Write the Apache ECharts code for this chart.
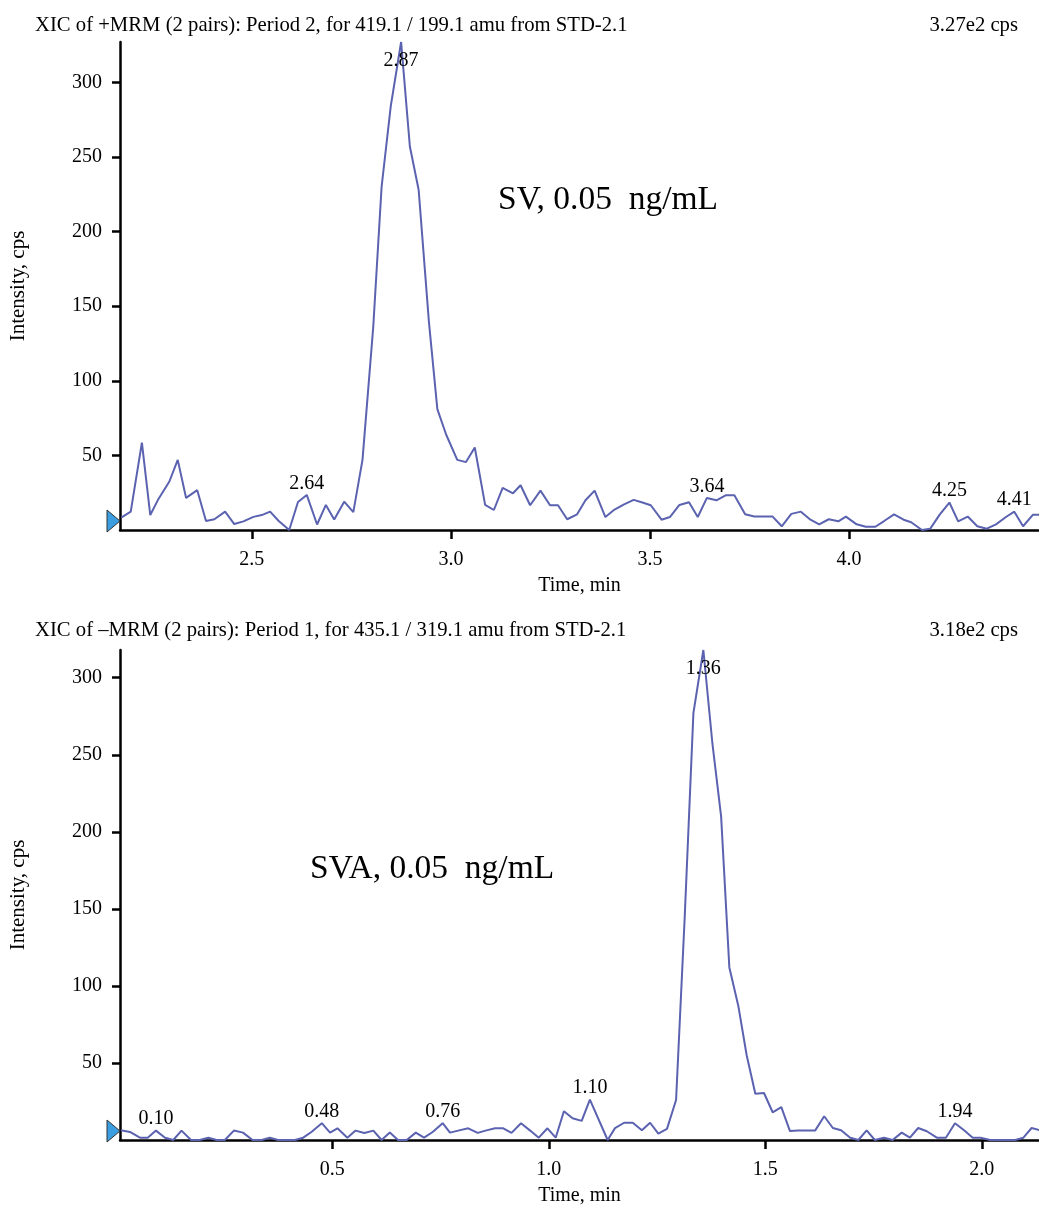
<!DOCTYPE html>
<html lang="en">
<head>
    <meta charset="UTF-8">
    <title>XIC SV / SVA 0.05 ng/mL</title>
    <script src="https://cdn.jsdelivr.net/npm/echarts@6/dist/echarts.min.js"></script>
    <style>
        html, body { margin: 0; padding: 0; background: #fff; }
    </style>
</head>
<body>
<div id="chart" style="width: 1039px;height: 1207px"></div>
<script type="text/javascript">
    // SV, +MRM 419.1 / 199.1 (upper trace)
    var svTime = [2.172, 2.196, 2.224, 2.245, 2.266, 2.293, 2.314, 2.335, 2.363, 2.385,
        2.406, 2.433, 2.456, 2.479, 2.504, 2.525, 2.546, 2.567, 2.594, 2.616,
        2.638, 2.664, 2.686, 2.707, 2.732, 2.755, 2.778, 2.805, 2.826, 2.849,
        2.875, 2.897, 2.919, 2.945, 2.966, 2.988, 3.016, 3.038, 3.060, 3.086,
        3.108, 3.130, 3.156, 3.175, 3.199, 3.225, 3.249, 3.269, 3.292, 3.317,
        3.338, 3.361, 3.388, 3.411, 3.435, 3.459, 3.481, 3.502, 3.529, 3.550,
        3.574, 3.598, 3.620, 3.643, 3.667, 3.691, 3.712, 3.739, 3.762, 3.786,
        3.808, 3.831, 3.855, 3.879, 3.903, 3.925, 3.949, 3.973, 3.992, 4.019,
        4.042, 4.066, 4.088, 4.113, 4.137, 4.156, 4.183, 4.204, 4.228, 4.252,
        4.274, 4.298, 4.322, 4.346, 4.369, 4.394, 4.415, 4.437, 4.462, 4.481];
    var svIntensity = [8.3, 12.3, 58.5, 10, 21, 32.5, 47, 21.5, 26.7, 6,
        7.2, 12.3, 4, 5.8, 8.8, 10, 12.3, 6.2, 0, 18.8,
        23.5, 3.7, 16.8, 7, 19, 12, 47, 136, 230, 284,
        327, 257, 228, 139, 81, 64, 47, 45.5, 55.3, 16.8,
        13.4, 28.2, 24.6, 30, 16.6, 26.4, 16.6, 16.6, 7.2, 10.5,
        19.9, 26.4, 8.7, 13.7, 17.2, 20.2, 18.4, 16.6, 6.9, 8.7,
        16.8, 18.6, 8.7, 21.5, 19.9, 23.3, 23.3, 10.5, 9, 9,
        9, 2.5, 10.8, 12.3, 6.9, 3.8, 7.2, 5.8, 9, 3.8,
        2.2, 2.2, 6, 10.5, 6.9, 5.2, 0, 0.9, 10.5, 18.4,
        5.8, 9, 2.5, 0.9, 3.8, 8.7, 12.3, 2.5, 10.3, 10.3];
    var svPeaks = ['2.64', '2.87', '3.64', '4.25', '4.41'];
    var svTicksX = [2.5, 3.0, 3.5, 4.0];

    // SVA, -MRM 435.1 / 319.1 (lower trace)
    var svaTime = [0.012, 0.033, 0.056, 0.074, 0.093, 0.114, 0.133, 0.152, 0.174, 0.194,
        0.214, 0.233, 0.252, 0.273, 0.294, 0.316, 0.337, 0.356, 0.375, 0.395,
        0.414, 0.433, 0.452, 0.476, 0.495, 0.512, 0.535, 0.554, 0.574, 0.595,
        0.614, 0.633, 0.652, 0.672, 0.693, 0.712, 0.732, 0.755, 0.772, 0.791,
        0.814, 0.836, 0.854, 0.876, 0.895, 0.914, 0.936, 0.957, 0.977, 0.997,
        1.016, 1.035, 1.055, 1.076, 1.095, 1.136, 1.153, 1.174, 1.194, 1.215,
        1.234, 1.253, 1.273, 1.294, 1.314, 1.334, 1.357, 1.378, 1.398, 1.417,
        1.438, 1.457, 1.477, 1.497, 1.517, 1.537, 1.557, 1.576, 1.596, 1.615,
        1.636, 1.656, 1.675, 1.696, 1.715, 1.734, 1.753, 1.774, 1.794, 1.815,
        1.834, 1.853, 1.873, 1.896, 1.917, 1.938, 1.959, 1.979, 1.997, 2.019,
        2.038, 2.057, 2.077, 2.096, 2.115, 2.134];
    var svaIntensity = [6.3, 5.2, 1.5, 1.5, 6.1, 1.5, 0, 6.1, 0, 0,
        1.5, 0, 0, 6.1, 4.8, 0, 0, 1.5, 0, 0,
        0, 1.5, 5.2, 10.9, 4.8, 7.6, 1.5, 6.1, 4.6, 6.1,
        0, 4.8, 0, 0, 4.8, 1.5, 5.2, 10.9, 4.8, 6.1,
        7.6, 4.6, 6.1, 7.6, 7.6, 4.6, 10.9, 6.1, 1.5, 7.6,
        1.5, 18.7, 14.1, 12.4, 26.2, 0, 7.7, 11.2, 11.2, 6.3,
        11.2, 4.2, 7.2, 26, 145, 277, 318, 257, 210, 112,
        86.6, 55, 30, 30.5, 18, 21.3, 5.8, 6.1, 6.1, 6.1,
        15.4, 7.8, 6.3, 1.5, 0, 6.3, 0, 1.5, 0, 4.8,
        1.5, 7.8, 5.7, 1.5, 1.5, 10.9, 6.3, 1.5, 1.5, 0,
        0, 0, 0, 1.5, 7.8, 6.3];
    var svaPeaks = ['0.10', '0.48', '0.76', '1.10', '1.36', '1.94'];
    var svaTicksX = [0.5, 1.0, 1.5, 2.0];

    var yTicks = [50, 100, 150, 200, 250, 300];

    var FONT = "'Liberation Serif', 'Times New Roman', serif";
    var LINE_COLOR = '#5b62b0';

    var echart = echarts.init(document.getElementById('chart'));

    /**
     * 把时间和强度拼成 [x, y]
     */
    function toPairs(times, values) {
        return times.map(function (t, i) {
            return [t, values[i]];
        });
    }

    /**
     * 找到离标注时间最近的点，标签放在该点上
     */
    function peakLabels(labels, times, values, maxValue) {
        return labels.map(function (txt) {
            var target = parseFloat(txt), best = 0;
            for (var i = 1; i < times.length; i++) {
                if (Math.abs(times[i] - target) < Math.abs(times[best] - target)) {
                    best = i;
                }
            }
            var isTop = values[best] >= maxValue - 1;
            return {
                value: [times[best], values[best]],
                name: txt,
                label: {
                    position: isTop ? 'bottom' : 'top',
                    distance: isTop ? 8 : 1
                }
            };
        });
    }

    function xAxisOf(gridIndex, min, max, ticks) {
        return {
            type: 'value',
            gridIndex: gridIndex,
            min: min,
            max: max,
            name: 'Time, min',
            nameLocation: 'middle',
            nameGap: 46,
            nameTextStyle: {color: '#000', fontSize: 20, fontFamily: FONT},
            splitLine: {show: false},
            axisLine: {show: true, lineStyle: {color: '#000', width: 2.5}},
            axisTick: {show: true, customValues: ticks, length: 9, lineStyle: {color: '#000', width: 2.5}},
            axisLabel: {
                customValues: ticks,
                margin: 20,
                color: '#000',
                fontSize: 20,
                fontFamily: FONT,
                formatter: function (v) { return v.toFixed(1); }
            }
        };
    }

    function yAxisOf(gridIndex, max) {
        return {
            type: 'value',
            gridIndex: gridIndex,
            min: 0,
            max: max,
            name: 'Intensity, cps',
            nameLocation: 'middle',
            nameGap: 91,
            nameTextStyle: {color: '#000', fontSize: 21, fontFamily: FONT},
            splitLine: {show: false},
            axisLine: {show: true, lineStyle: {color: '#000', width: 2.5}},
            axisTick: {show: true, customValues: yTicks, length: 8, lineStyle: {color: '#000', width: 2.5}},
            axisLabel: {
                customValues: yTicks,
                margin: 18,
                color: '#000',
                fontSize: 20,
                fontFamily: FONT
            }
        };
    }

    function traceSeries(index, times, values) {
        return {
            type: 'line',
            xAxisIndex: index,
            yAxisIndex: index,
            data: toPairs(times, values),
            showSymbol: false,
            symbol: 'none',
            lineStyle: {color: LINE_COLOR, width: 2},
            animation: false
        };
    }

    function labelSeries(index, labels, times, values, maxValue) {
        return {
            type: 'scatter',
            xAxisIndex: index,
            yAxisIndex: index,
            symbolSize: 1,
            itemStyle: {color: 'rgba(0,0,0,0)'},
            silent: true,
            animation: false,
            z: 5,
            data: peakLabels(labels, times, values, maxValue),
            label: {
                show: true,
                color: '#000',
                opacity: 1,
                fontSize: 20,
                fontFamily: FONT,
                formatter: function (p) { return p.name; }
            }
        };
    }

    var svMax = 327, svaMax = 318;
    var svRange = [2.169, 4.477], svaRange = [0.010, 2.132];

    var options = {
        backgroundColor: '#fff',
        textStyle: {fontFamily: FONT},
        title: [
            {text: 'XIC of +MRM (2 pairs): Period 2, for 419.1 / 199.1 amu from STD-2.1', left: 30, top: 10,
                textStyle: {color: '#000', fontSize: 20.7, fontWeight: 'normal', fontFamily: FONT}},
            {text: '3.27e2 cps', right: 16, top: 10,
                textStyle: {color: '#000', fontSize: 20.7, fontWeight: 'normal', fontFamily: FONT}},
            {text: 'SV, 0.05  ng/mL', left: 493, top: 178,
                textStyle: {color: '#000', fontSize: 33.5, fontWeight: 'normal', fontFamily: FONT}},
            {text: 'XIC of \u2013MRM (2 pairs): Period 1, for 435.1 / 319.1 amu from STD-2.1', left: 30, top: 615,
                textStyle: {color: '#000', fontSize: 20.7, fontWeight: 'normal', fontFamily: FONT}},
            {text: '3.18e2 cps', right: 16, top: 615,
                textStyle: {color: '#000', fontSize: 20.7, fontWeight: 'normal', fontFamily: FONT}},
            {text: 'SVA, 0.05  ng/mL', left: 305, top: 847,
                textStyle: {color: '#000', fontSize: 33.5, fontWeight: 'normal', fontFamily: FONT}}
        ],
        grid: [
            {left: 120, right: 0, top: 42, height: 488},
            {left: 120, right: 0, top: 650, height: 490}
        ],
        xAxis: [
            xAxisOf(0, svRange[0], svRange[1], svTicksX),
            xAxisOf(1, svaRange[0], svaRange[1], svaTicksX)
        ],
        yAxis: [
            yAxisOf(0, svMax),
            yAxisOf(1, svaMax)
        ],
        series: [
            traceSeries(0, svTime, svIntensity),
            labelSeries(0, svPeaks, svTime, svIntensity, svMax),
            traceSeries(1, svaTime, svaIntensity),
            labelSeries(1, svaPeaks, svaTime, svaIntensity, svaMax)
        ]
    };
    echart.setOption(options);

    // 轴起点左侧的蓝色小三角
    function startMarker(gridIndex, xMin) {
        var p = echart.convertToPixel({gridIndex: gridIndex}, [xMin, 0]);
        return {
            type: 'polygon',
            z: 10,
            shape: {points: [[p[0] - 13, p[1] - 20], [p[0], p[1] - 9], [p[0] - 13, p[1] + 2]]},
            style: {fill: '#3a9ee0', stroke: '#333', lineWidth: 1}
        };
    }
    echart.setOption({
        graphic: [startMarker(0, svRange[0]), startMarker(1, svaRange[0])]
    });
</script>
</body>
</html>
